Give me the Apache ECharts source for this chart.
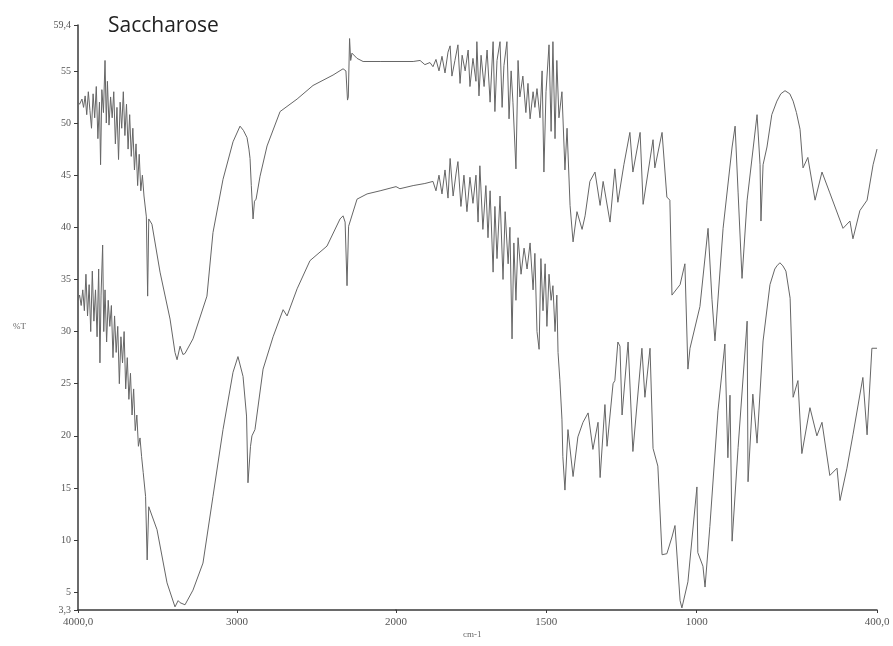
<!DOCTYPE html>
<html>
<head>
<meta charset="utf-8">
<script src="https://cdn.jsdelivr.net/npm/echarts@6/dist/echarts.min.js"></script>
<style>html,body{margin:0;padding:0;background:#fff}#c{width:893px;height:646px}</style>
</head>
<body>
<div id="c"></div>
<script>
// Wavenumber (cm-1) / %T pairs, upper spectrum, 4000-2000 cm-1 section
var upperHigh = [[4000,52.0],[3990,51.8],[3975,52.3],[3965,51.5],[3955,52.6],[3945,50.8],[3935,53.0],[3925,51.2],[3915,49.5],[3905,52.8],[3895,50.5],[3885,53.5],[3875,48.5],[3865,52.0],[3858,46.0],[3850,53.2],[3840,51.0],[3830,56.0],[3822,50.0],[3815,54.0],[3805,49.8],[3795,52.5],[3785,50.5],[3775,53.0],[3765,48.0],[3755,51.5],[3745,46.5],[3735,52.0],[3725,49.5],[3715,53.0],[3705,48.8],[3695,51.8],[3685,47.5],[3675,50.8],[3665,46.8],[3655,49.5],[3645,45.5],[3635,48.0],[3625,44.0],[3615,47.0],[3605,43.5],[3595,45.0],[3585,43.0],[3570,41.0],[3562,33.4],[3555,40.8],[3535,40.3],[3484,35.7],[3421,31.2],[3390,28.0],[3377,27.3],[3358,28.6],[3340,27.8],[3327,27.9],[3277,29.3],[3189,33.4],[3151,39.5],[3088,44.6],[3025,48.2],[2981,49.7],[2960,49.3],[2937,48.6],[2925,47.5],[2918,46.6],[2910,44.0],[2899,40.8],[2890,42.5],[2880,42.7],[2855,44.9],[2811,47.8],[2729,51.1],[2622,52.3],[2522,53.6],[2396,54.6],[2333,55.2],[2315,55.0],[2305,52.2],[2300,52.5],[2292,58.1],[2285,56.0],[2277,56.7],[2245,56.2],[2207,55.9],[2100,55.9],[2000,55.9]];
// upper spectrum, 2000-400 cm-1 section
var upperLow = [[2000,55.9],[1943,55.9],[1920,56.0],[1904,55.6],[1887,55.8],[1877,55.4],[1867,56.1],[1857,55.0],[1847,56.4],[1837,54.8],[1827,56.8],[1820,57.4],[1814,54.5],[1804,56.0],[1794,57.5],[1787,53.8],[1780,56.5],[1770,55.0],[1760,57.0],[1754,53.5],[1744,56.2],[1734,54.0],[1731,57.8],[1724,52.6],[1717,56.5],[1707,53.5],[1697,57.0],[1687,52.0],[1677,57.8],[1671,51.1],[1664,56.0],[1654,57.8],[1647,51.5],[1641,55.5],[1631,57.8],[1624,50.4],[1617,55.0],[1611,52.0],[1601,45.6],[1594,56.0],[1588,52.5],[1578,54.5],[1568,51.0],[1561,53.8],[1554,50.4],[1544,53.0],[1538,51.5],[1531,53.3],[1521,50.5],[1514,55.0],[1508,45.3],[1501,53.0],[1491,57.5],[1484,49.2],[1478,57.8],[1471,48.5],[1465,56.0],[1458,50.5],[1448,53.0],[1438,45.5],[1431,49.5],[1421,42.1],[1411,38.6],[1398,41.5],[1381,39.8],[1371,41.1],[1355,44.4],[1338,45.3],[1321,42.1],[1311,44.4],[1288,40.5],[1272,45.6],[1262,42.4],[1242,46.0],[1222,49.1],[1212,45.3],[1188,49.1],[1178,42.2],[1145,48.4],[1139,45.7],[1115,49.1],[1099,42.9],[1089,42.6],[1082,33.5],[1055,34.5],[1039,36.5],[1029,26.4],[1022,28.4],[989,32.4],[962,39.9],[949,33.1],[939,29.1],[912,39.9],[882,47.7],[872,49.7],[862,43.3],[849,35.1],[832,42.6],[799,50.8],[789,46.0],[786,40.6],[779,46.0],[766,47.7],[750,50.8],[733,52.1],[720,52.8],[706,53.1],[690,52.8],[679,52.1],[668,51.0],[656,49.4],[646,45.7],[630,46.7],[606,42.6],[583,45.3],[557,43.3],[513,39.9],[490,40.6],[480,38.9],[457,41.6],[433,42.6],[413,46.0],[400,47.5]];
// lower spectrum, 4000-2000 cm-1 section
var lowerHigh = [[4000,33.0],[3990,33.5],[3980,32.5],[3970,34.0],[3960,32.0],[3950,35.5],[3940,31.5],[3930,34.5],[3920,30.0],[3910,35.8],[3900,31.0],[3890,34.0],[3880,29.5],[3870,36.0],[3862,27.0],[3855,33.5],[3845,38.3],[3838,30.0],[3830,34.0],[3820,29.0],[3810,33.0],[3800,30.5],[3790,32.5],[3780,27.5],[3770,31.5],[3760,28.0],[3750,30.5],[3740,25.0],[3730,29.5],[3720,27.0],[3710,30.0],[3700,24.5],[3690,27.5],[3680,23.5],[3670,26.0],[3660,22.0],[3650,24.5],[3640,20.5],[3630,22.0],[3620,19.0],[3610,19.8],[3600,18.0],[3590,16.5],[3575,14.2],[3565,8.1],[3555,13.2],[3503,11.0],[3440,5.9],[3390,3.6],[3370,4.2],[3358,4.0],[3327,3.8],[3277,5.2],[3214,7.8],[3151,14.2],[3088,20.6],[3025,26.1],[2994,27.6],[2962,25.7],[2940,21.9],[2931,15.5],[2915,19.0],[2906,20.0],[2887,20.6],[2836,26.4],[2773,29.5],[2710,32.1],[2685,31.5],[2622,34.1],[2541,36.8],[2434,38.2],[2352,40.8],[2333,41.1],[2320,40.5],[2308,34.4],[2298,40.1],[2245,42.7],[2182,43.2],[2100,43.5],[2000,43.9]];
// lower spectrum, 2000-400 cm-1 section
var lowerLow = [[2000,43.9],[1987,43.7],[1943,44.0],[1904,44.2],[1877,44.4],[1867,43.5],[1857,45.0],[1847,43.2],[1837,45.5],[1827,42.8],[1820,46.6],[1810,43.0],[1800,45.2],[1794,46.3],[1784,42.0],[1774,45.0],[1764,41.5],[1754,44.8],[1744,42.3],[1734,45.0],[1727,40.5],[1721,45.9],[1711,39.8],[1701,44.0],[1694,39.0],[1687,43.5],[1677,35.7],[1671,42.0],[1664,37.0],[1654,43.0],[1644,35.0],[1637,41.5],[1627,36.5],[1621,40.0],[1614,29.3],[1608,38.5],[1601,33.0],[1594,39.0],[1584,35.5],[1574,38.0],[1564,36.0],[1554,38.5],[1544,34.0],[1538,37.5],[1531,30.0],[1524,28.3],[1518,37.0],[1511,32.0],[1504,36.5],[1498,30.5],[1491,35.5],[1484,33.0],[1478,34.4],[1471,30.0],[1465,33.5],[1461,28.0],[1455,25.4],[1448,21.6],[1445,18.0],[1438,14.8],[1428,20.6],[1411,16.1],[1395,19.9],[1378,21.3],[1361,22.2],[1345,18.7],[1328,21.3],[1321,16.0],[1305,23.0],[1298,19.0],[1278,25.0],[1272,25.3],[1262,29.0],[1255,28.6],[1248,22.0],[1228,29.0],[1222,29.1],[1212,18.5],[1182,28.4],[1172,23.7],[1155,28.4],[1145,18.8],[1129,17.1],[1115,8.6],[1099,8.7],[1082,10.3],[1072,11.4],[1055,4.2],[1049,3.5],[1029,6.0],[999,15.1],[996,8.8],[979,7.5],[972,5.5],[956,11.3],[929,22.4],[906,28.8],[896,17.9],[889,23.9],[882,9.9],[862,18.9],[832,31.0],[829,15.6],[813,24.0],[799,19.3],[779,29.1],[756,34.5],[740,36.0],[733,36.3],[723,36.6],[713,36.3],[703,35.8],[689,33.2],[679,23.7],[663,25.3],[650,18.3],[623,22.7],[600,20.0],[583,21.3],[557,16.2],[533,16.9],[523,13.8],[500,16.9],[480,20.1],[447,25.6],[433,20.1],[417,28.4],[400,28.4]];

var yTicks = [3.3, 5, 10, 15, 20, 25, 30, 35, 40, 45, 50, 55, 59.4];
var xTicksHigh = [4000, 3000, 2000];
var xTicksLow = [1500, 1000, 400];

function fmt(v) {
  if (v === 4000 || v === 400) return v.toFixed(1).replace('.', ',');
  if (Math.round(v) !== v) return String(v).replace('.', ',');
  return String(v);
}

var chart = echarts.init(document.getElementById('c'), null, {renderer: 'canvas'});
var serif = 'Liberation Serif, DejaVu Serif, serif';
var axisColor = '#3a3a3a';
function xAxisDef(idx, min, max, ticks) {
  return {
    type: 'value', gridIndex: idx, min: min, max: max, inverse: true,
    axisLine: {show: true, lineStyle: {color: axisColor, width: 1.5}},
    axisTick: {show: true, length: 3, customValues: ticks, lineStyle: {color: axisColor}},
    axisLabel: {customValues: ticks, formatter: fmt, fontFamily: serif, fontSize: 11, color: '#555', margin: 7, showMinLabel: true, showMaxLabel: true},
    splitLine: {show: false}
  };
}
var lineStyle = {color: '#666', width: 1};
function s(xi, data) {
  return {type: 'line', xAxisIndex: xi, yAxisIndex: xi, data: data, showSymbol: false, symbol: 'none', lineStyle: lineStyle, silent: true, animation: false};
}
chart.setOption({
  animation: false,
  backgroundColor: '#fff',
  grid: [
    {left: 78, top: 25, width: 318, height: 585},
    {left: 396, top: 25, width: 481, height: 585}
  ],
  xAxis: [xAxisDef(0, 2000, 4000, xTicksHigh), xAxisDef(1, 400, 2000, xTicksLow)],
  yAxis: [
    {type: 'value', gridIndex: 0, min: 3.3, max: 59.4,
     axisLine: {show: true, lineStyle: {color: axisColor, width: 1.5}},
     axisTick: {show: true, length: 4, customValues: yTicks, lineStyle: {color: axisColor}},
     axisLabel: {customValues: yTicks, formatter: fmt, fontFamily: serif, fontSize: 10, color: '#555', margin: 7, showMinLabel: true, showMaxLabel: true},
     splitLine: {show: false}},
    {type: 'value', gridIndex: 1, min: 3.3, max: 59.4, show: false, splitLine: {show: false}}
  ],
  series: [s(0, upperHigh), s(1, upperLow), s(0, lowerHigh), s(1, lowerLow)],
  graphic: [
    {type: 'text', left: 108, top: 16, style: {text: 'Saccharose', font: '21px "Open Sans", sans-serif', fill: '#222'}},
    {type: 'text', left: 13, top: 322, style: {text: '%T', font: '9px "Liberation Serif", serif', fill: '#666'}},
    {type: 'text', left: 463, top: 630, style: {text: 'cm-1', font: '9px "Liberation Serif", serif', fill: '#666'}}
  ]
});
</script>
</body>
</html>
